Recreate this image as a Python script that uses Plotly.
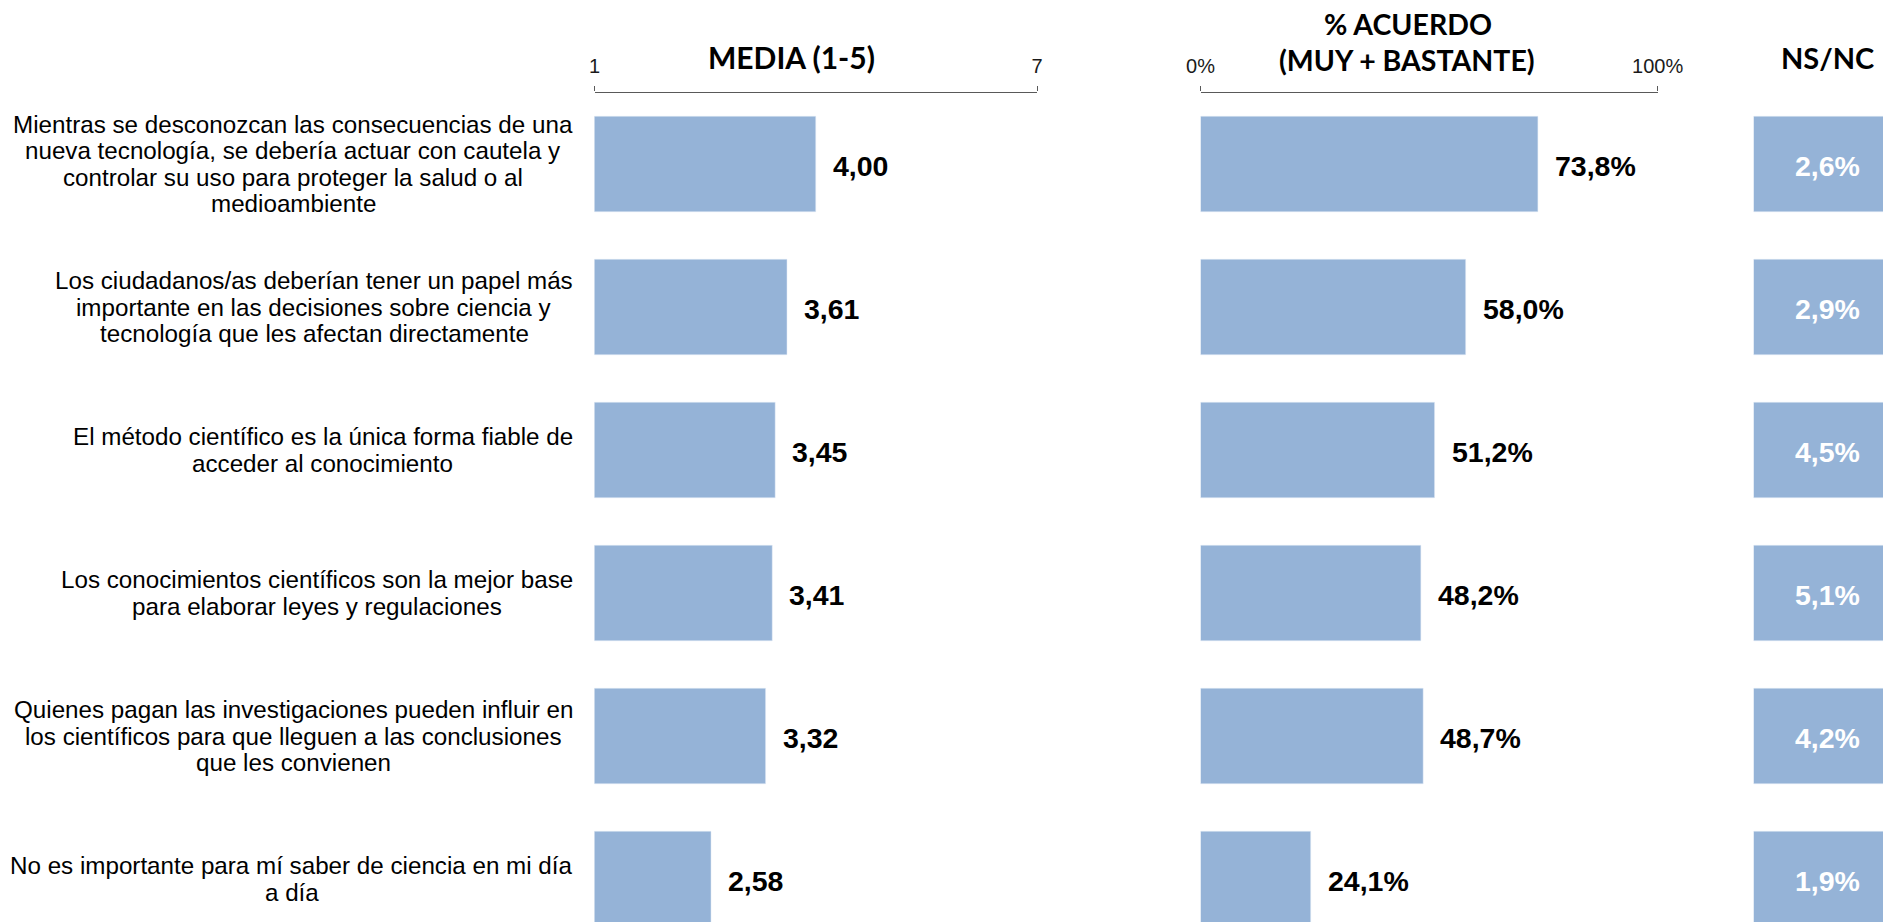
import plotly.graph_objects as go

# ---------------- data ----------------
categories = [
    "Mientras se desconozcan las consecuencias de una<br>nueva tecnología, se debería actuar con cautela y<br>controlar su uso para proteger la salud o al<br>medioambiente",
    "Los ciudadanos/as deberían tener un papel más<br>importante en las decisiones sobre ciencia y<br>tecnología que les afectan directamente",
    "El método científico es la única forma fiable de<br>acceder al conocimiento",
    "Los conocimientos científicos son la mejor base<br>para elaborar leyes y regulaciones",
    "Quienes pagan las investigaciones pueden influir en<br>los científicos para que lleguen a las conclusiones<br>que les convienen",
    "No es importante para mí saber de ciencia en mi día<br>a día",
]
media = [4.00, 3.61, 3.45, 3.41, 3.32, 2.58]
acuerdo = [73.8, 58.0, 51.2, 48.2, 48.7, 24.1]
nsnc = [2.6, 2.9, 4.5, 5.1, 4.2, 1.9]

media_ticks = [1, 7]
acuerdo_ticks = [0, 100]
acuerdo_ticktext = ["0%", "100%"]

titles = ["MEDIA (1-5)", "% ACUERDO", "(MUY + BASTANTE)", "NS/NC"]

# ---------------- styling / layout helpers ----------------
W, H = 1883, 922
BAR = "#95B3D7"
AXC = "#595959"
TXT = "Arial, Liberation Sans, sans-serif"
TITLEF = "Lato, Open Sans, sans-serif"

def px_x(p):
    return p / W

def px_y(p):
    return 1 - p / H

# Arial advance widths (1/1000 em) for label centring
AW = {" ": 278, ",": 278, "/": 278, ".": 278,
      "a": 556, "b": 556, "c": 500, "d": 556, "e": 556, "f": 278, "g": 556, "h": 556,
      "i": 222, "j": 222, "k": 500, "l": 222, "m": 833, "n": 556, "o": 556, "p": 556,
      "q": 556, "r": 333, "s": 500, "t": 278, "u": 556, "v": 500, "w": 722, "x": 500,
      "y": 500, "z": 500, "á": 556, "é": 556, "í": 278, "ó": 556, "ú": 556, "ñ": 556,
      "E": 667, "L": 556, "M": 833, "N": 722, "Q": 778}

def text_w(s, size):
    return sum(AW.get(ch, 556) for ch in s) / 1000 * size

CAT_SIZE = 24.2
LINE_H = 26.4
RIGHT_EDGE = 573

fig = go.Figure()

fig.add_trace(go.Bar(y=categories, x=media, orientation="h", marker_color=BAR,
                     xaxis="x", yaxis="y", hoverinfo="skip"))
fig.add_trace(go.Bar(y=categories, x=acuerdo, orientation="h", marker_color=BAR,
                     xaxis="x2", yaxis="y", hoverinfo="skip"))
fig.add_trace(go.Bar(y=categories, x=[1 for _ in nsnc], orientation="h", marker_color=BAR,
                     xaxis="x3", yaxis="y", hoverinfo="skip"))

ann = []
# category labels, one annotation per line for tight line spacing
for cat in categories:
    lines = cat.split("<br>")
    maxw = max(text_w(l, CAT_SIZE) for l in lines)
    cx = RIGHT_EDGE - maxw / 2
    n = len(lines)
    for i, l in enumerate(lines):
        ann.append(dict(x=px_x(cx), xref="paper", y=cat, yref="y", text=l,
                        xanchor="center", yanchor="middle", showarrow=False,
                        yshift=-(i - (n - 1) / 2) * LINE_H,
                        font=dict(family=TXT, size=CAT_SIZE, color="#000000")))

# value labels
for cat, v in zip(categories, media):
    ann.append(dict(x=v, xref="x", y=cat, yref="y", text=f"{v:.2f}".replace(".", ","),
                    xanchor="left", yanchor="middle", xshift=15, yshift=-2, showarrow=False,
                    font=dict(family=TXT, size=28.5, color="#000000", weight="bold")))
for cat, v in zip(categories, acuerdo):
    ann.append(dict(x=v, xref="x2", y=cat, yref="y", text=f"{v:.1f}%".replace(".", ","),
                    xanchor="left", yanchor="middle", xshift=15, yshift=-2, showarrow=False,
                    font=dict(family=TXT, size=28.5, color="#000000", weight="bold")))
for cat, v in zip(categories, nsnc):
    ann.append(dict(x=0.5, xref="x3", y=cat, yref="y", text=f"{v:.1f}%".replace(".", ","),
                    xanchor="center", yanchor="middle", yshift=-2, showarrow=False,
                    font=dict(family=TXT, size=28.5, color="#FFFFFF", weight="bold")))

# column titles
title_pos = [(791.7, 57), (1407.5, 24), (1407.0, 60), (1827.5, 57)]
title_size = [30, 28.5, 28.5, 29]
for t, (tx, ty), ts in zip(titles, title_pos, title_size):
    ann.append(dict(x=px_x(tx), xref="paper", y=px_y(ty), yref="paper", text=t,
                    xanchor="center", yanchor="middle", showarrow=False,
                    font=dict(family=TITLEF, size=ts, color="#000000", weight="bold")))

plot_top = 92.5
pitch = 143.0
n_vis = (H - plot_top) / pitch

axis_common = dict(side="top", showline=True, linecolor=AXC, linewidth=1.3,
                   ticks="outside", ticklen=5, tickwidth=1.3, tickcolor=AXC,
                   showgrid=False, zeroline=False, anchor="y", fixedrange=True,
                   ticklabelstandoff=5, automargin=False,
                   tickfont=dict(family=TXT, size=20, color="#1a1a1a"))

fig.update_layout(
    width=W, height=H, autosize=False,
    margin=dict(l=0, r=0, t=0, b=0, pad=0, autoexpand=False),
    paper_bgcolor="white", plot_bgcolor="white",
    showlegend=False, bargap=0.332,
    font=dict(family=TXT),
    xaxis=dict(domain=[px_x(594.5), px_x(1037.0)], range=[1, 7],
               tickvals=media_ticks, ticktext=[str(t) for t in media_ticks], **axis_common),
    xaxis2=dict(domain=[px_x(1200.5), px_x(1657.7)], range=[0, 100],
                tickvals=acuerdo_ticks, ticktext=acuerdo_ticktext, **axis_common),
    xaxis3=dict(domain=[px_x(1753.5), 1.0], range=[0, (W - 1753.5) / 147.5],
                visible=False, anchor="y", fixedrange=True, automargin=False),
    yaxis=dict(domain=[0, px_y(plot_top)], type="category",
               categoryorder="array", categoryarray=categories,
               range=[n_vis - 0.5, -0.5], visible=False, fixedrange=True, automargin=False),
    annotations=ann,
)

fig.write_html("out.html", config={"displayModeBar": False, "responsive": False},
               post_script="document.body.style.margin='0';document.body.style.overflow='hidden';")
